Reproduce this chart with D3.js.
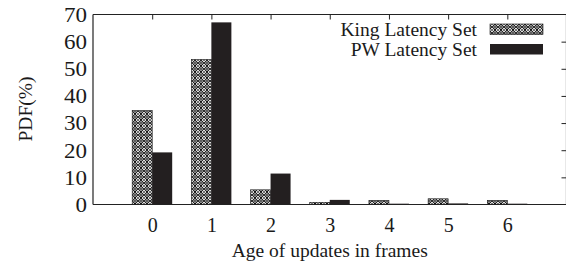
<!DOCTYPE html>
<html><head><meta charset="utf-8">
<script src="https://cdn.jsdelivr.net/npm/d3@7"></script>
<style>body{margin:0;background:#fff}svg{display:block}text{font-family:"Liberation Serif","Times New Roman",serif;fill:#1a1a1a}</style>
</head><body>
<script>
const categories = [0, 1, 2, 3, 4, 5, 6];
const kingValues = [34.6, 53.4, 5.4, 0.8, 1.5, 2.1, 1.5];
const pwValues = [19.2, 67.1, 11.4, 1.7, 0.3, 0.4, 0.3];
const yTicks = [0, 10, 20, 30, 40, 50, 60, 70];
const seriesNames = ["King Latency Set", "PW Latency Set"];

const W = 566, H = 267;
const m = {left: 93, right: 566.5, top: 14.5, bottom: 204.5};
const svg = d3.select("body").append("svg").attr("width", W).attr("height", H);

const defs = svg.append("defs");
const pat = defs.append("pattern").attr("id", "hatch").attr("patternUnits", "userSpaceOnUse")
  .attr("width", 6).attr("height", 6);
pat.append("rect").attr("width", 6).attr("height", 6).attr("fill", "#fff");
pat.append("path").attr("d", "M3,0.2 L5.8,3 L3,5.8 L0.2,3 Z").attr("fill", "none").attr("stroke", "#111").attr("stroke-width", 1.15);
pat.append("circle").attr("cx", 3).attr("cy", 3).attr("r", 0.9).attr("fill", "#111");
pat.append("path").attr("d", "M0,0h0.8v0.8h-0.8z M5.2,0h0.8v0.8h-0.8z M0,5.2h0.8v0.8h-0.8z M5.2,5.2h0.8v0.8h-0.8z").attr("fill", "#111");

const x = d3.scaleLinear().domain([-1, 7]).range([m.left, m.right]);
const y = d3.scaleLinear().domain([0, 70]).range([m.bottom, m.top]);
const bw = x(0.338) - x(0);

// bars
svg.append("g").selectAll("rect").data(categories).join("rect")
  .attr("x", (d) => x(d) - bw).attr("width", bw)
  .attr("y", (d, i) => y(kingValues[i])).attr("height", (d, i) => y(0) - y(kingValues[i]))
  .attr("fill", "url(#hatch)").attr("stroke", "#111").attr("stroke-width", 0.6);
svg.append("g").selectAll("rect").data(categories).join("rect")
  .attr("x", (d) => x(d)).attr("width", bw)
  .attr("y", (d, i) => y(pwValues[i])).attr("height", (d, i) => y(0) - y(pwValues[i]))
  .attr("fill", "#231f20");

// frame lines
const frame = svg.append("g").attr("stroke", "#222").attr("stroke-width", 1.2).attr("fill", "none");
frame.append("line").attr("x1", m.left).attr("x2", m.left).attr("y1", m.top).attr("y2", m.bottom);
frame.append("line").attr("x1", m.left).attr("x2", m.right).attr("y1", m.top).attr("y2", m.top);
frame.append("line").attr("x1", m.left).attr("x2", m.right).attr("y1", m.bottom).attr("y2", m.bottom);
frame.append("line").attr("x1", m.right).attr("x2", m.right).attr("y1", m.top).attr("y2", m.bottom);

// top ticks (mirror)
const topAxis = d3.axisTop(x).tickValues(categories).tickSizeInner(-5).tickSizeOuter(0).tickFormat("");
const gt = svg.append("g").attr("transform", `translate(0,${m.top})`).call(topAxis);
gt.select(".domain").remove();
gt.selectAll("line").attr("stroke", "#222").attr("stroke-width", 1);
// right ticks (mirror)
const rightAxis = d3.axisRight(y).tickValues(yTicks.slice(1, -1)).tickSizeInner(-5).tickSizeOuter(0).tickFormat("");
const gr = svg.append("g").attr("transform", `translate(${m.right},0)`).call(rightAxis);
gr.select(".domain").remove();
gr.selectAll("line").attr("stroke", "#222").attr("stroke-width", 1);

// left tick labels
const leftAxis = d3.axisLeft(y).tickValues(yTicks).tickSize(0).tickPadding(6);
const gl = svg.append("g").attr("transform", `translate(${m.left},0)`).call(leftAxis);
gl.select(".domain").remove();
gl.selectAll("text").style("font-size", "20px").attr("font-family", null).attr("dy", "0.34em")
  .attr("transform", "scale(1.15,1)").attr("x", -6 / 1.15);

// bottom tick labels
const bottomAxis = d3.axisBottom(x).tickValues(categories).tickSize(0).tickPadding(13);
const gb = svg.append("g").attr("transform", `translate(0,${m.bottom})`).call(bottomAxis);
gb.select(".domain").remove();
gb.selectAll("text").style("font-size", "20px").attr("font-family", null);

// axis titles
svg.append("text").attr("x", (m.left + m.right) / 2).attr("y", 257).attr("text-anchor", "middle")
  .style("font-size", "19.5px").text("Age of updates in frames");
svg.append("text").attr("transform", "translate(32,109) rotate(-90)").attr("text-anchor", "middle")
  .style("font-size", "19.5px").text("PDF(%)");

// legend
const lg = svg.append("g");
seriesNames.forEach((name, i) => {
  lg.append("text").attr("x", 477).attr("y", 36 + i * 20).attr("text-anchor", "end")
    .style("font-size", "19.5px").text(name);
  lg.append("rect").attr("x", 490).attr("y", 24 + i * 20).attr("width", 53).attr("height", 10.5)
    .attr("fill", i === 0 ? "url(#hatch)" : "#231f20").attr("stroke", i === 0 ? "#111" : "none").attr("stroke-width", 0.6);
});
</script>
</body></html>
